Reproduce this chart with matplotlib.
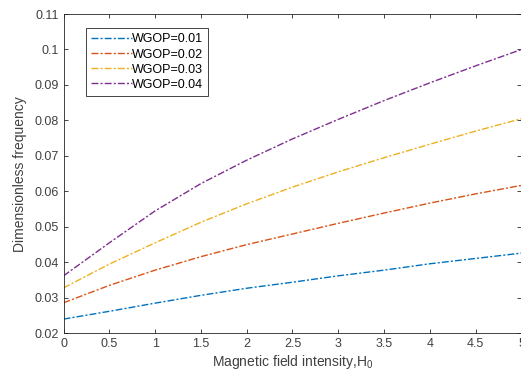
import numpy as np
import matplotlib
matplotlib.use("Agg")
import matplotlib.pyplot as plt

plt.rcParams['font.family'] = ['Liberation Sans', 'DejaVu Sans']
plt.rcParams['mathtext.default'] = 'regular'

# magnetic field intensity H0
h0 = [0, 0.5, 1, 1.5, 2, 2.5, 3, 3.5, 4, 4.5, 5]

# dimensionless frequency for each WGOP
wgop_001 = [0.0240, 0.0262, 0.0285, 0.0307, 0.0327, 0.0344, 0.0362, 0.0378, 0.0396, 0.0411, 0.0426]
wgop_002 = [0.0286, 0.0335, 0.0378, 0.0416, 0.0450, 0.0480, 0.0510, 0.0539, 0.0567, 0.0593, 0.0617]
wgop_003 = [0.0328, 0.0395, 0.0455, 0.0513, 0.0565, 0.0612, 0.0655, 0.0695, 0.0733, 0.0770, 0.0805]
wgop_004 = [0.0362, 0.0455, 0.0545, 0.0622, 0.0688, 0.0748, 0.0803, 0.0856, 0.0906, 0.0954, 0.1000]

labels = ["WGOP=0.01", "WGOP=0.02", "WGOP=0.03", "WGOP=0.04"]
colors = ["#0072BD", "#D95319", "#EDB120", "#7E2F8E"]

fig = plt.figure(figsize=(5.21, 3.81), dpi=100)
# right edge sits just past the figure, as in the cropped original
ax = fig.add_axes([0.1219, 0.1252, 0.879, 0.838])

for ys, lab, c in zip([wgop_001, wgop_002, wgop_003, wgop_004], labels, colors):
    ax.plot(h0, ys, linestyle=(0, (5, 1.5, 1.5, 1.5)), color=c, lw=1.0, label=lab)

ax.set_xlim(0, 5)
ax.set_ylim(0.02, 0.11)
ax.set_xticks(np.arange(0, 5.01, 0.5))
ax.set_xticklabels(["0", "0.5", "1", "1.5", "2", "2.5", "3", "3.5", "4", "4.5", "5"])
ax.set_yticks(np.arange(0.02, 0.1101, 0.01))
ax.set_yticklabels(["0.02", "0.03", "0.04", "0.05", "0.06", "0.07", "0.08", "0.09", "0.1", "0.11"])

gray = "#262626"
for s in ax.spines.values():
    s.set_color(gray)
    s.set_linewidth(0.6)
ax.tick_params(direction="in", top=True, right=True, length=3, width=0.6,
               colors=gray, labelsize=9, labelcolor="#404040")

ax.set_xlabel("Magnetic field intensity,H$_0$", fontsize=10, color="#404040", labelpad=2)
ax.set_ylabel("Dimensionless frequency", fontsize=10, color="#404040", labelpad=5)

leg = ax.legend(loc="upper left", bbox_to_anchor=(0.049, 0.955), fontsize=9,
                handlelength=3.3, handletextpad=0.0, labelspacing=0.25,
                borderpad=0.4, fancybox=False, framealpha=1, borderaxespad=0)
leg.get_frame().set_edgecolor(gray)
leg.get_frame().set_linewidth(0.6)

fig.savefig("out.png", dpi=100)
